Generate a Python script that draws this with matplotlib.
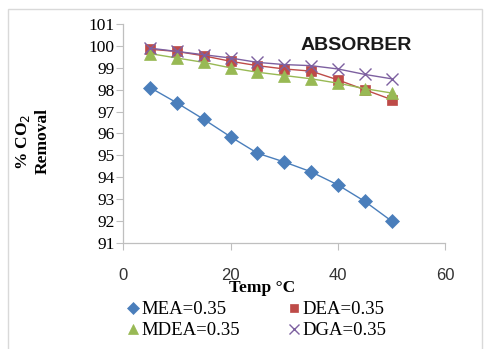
import matplotlib.pyplot as plt

# CO2 removal vs temperature in the absorber, amine loading 0.35
temp = [5, 10, 15, 20, 25, 30, 35, 40, 45, 50]
mea = [98.1, 97.4, 96.65, 95.85, 95.1, 94.7, 94.25, 93.65, 92.9, 92.0]
dea = [99.85, 99.75, 99.55, 99.3, 99.1, 98.95, 98.85, 98.45, 98.0, 97.55]
mdea = [99.65, 99.45, 99.25, 99.0, 98.8, 98.65, 98.5, 98.3, 98.05, 97.85]
dga = [99.9, 99.75, 99.6, 99.45, 99.25, 99.15, 99.1, 98.95, 98.7, 98.5]

series = [
    ("MEA=0.35", mea, "#4A7EBB", "D", 7),
    ("DEA=0.35", dea, "#BE4B48", "s", 7.5),
    ("MDEA=0.35", mdea, "#98B954", "^", 8),
    ("DGA=0.35", dga, "#7D60A0", "x", 8.5),
]

serif = "Liberation Serif"
sans = "Liberation Sans"

fig = plt.figure(figsize=(4.85, 3.49), dpi=100)
ax = fig.add_axes([0.254, 0.304, 0.664, 0.627])

handles = {}
for name, vals, color, mk, ms in series:
    h, = ax.plot(temp, vals, color=color, lw=1, marker=mk, markersize=ms,
                 markeredgewidth=1 if mk == "x" else 0.5, markeredgecolor=color,
                 label=name)
    handles[name] = h

ax.set_xlim(0, 60)
ax.set_ylim(91, 101)
ax.set_xticks([0, 20, 40, 60])
ax.set_yticks(range(91, 102))

for side in ["top", "right"]:
    ax.spines[side].set_visible(False)
for side in ["left", "bottom"]:
    ax.spines[side].set_color("#BFBFBF")
    ax.spines[side].set_linewidth(0.9)

ax.tick_params(axis="y", direction="out", length=5, width=0.8, color="#BFBFBF",
               pad=1, labelsize=12.5)
ax.tick_params(axis="x", direction="out", length=5, width=0.8, color="#BFBFBF",
               pad=13, labelsize=12)
for lbl in ax.get_yticklabels():
    lbl.set_fontfamily(serif)
for lbl in ax.get_xticklabels():
    lbl.set_fontfamily(sans)
    lbl.set_color("#333333")

ax.text(0.55, 0.94, "ABSORBER", transform=ax.transAxes, fontsize=14,
        fontweight="bold", family=sans, ha="left", va="top", color="#1a1a1a")

fig.text(0.54, 0.176, "Temp °C", ha="center", va="center",
         fontsize=12.5, fontweight="bold", family=serif)
fig.text(0.048, 0.595, "% CO$_2$", rotation=90, ha="center", va="center",
         fontsize=12.5, fontweight="bold", family=serif)
fig.text(0.088, 0.595, "Removal", rotation=90, ha="center", va="center",
         fontsize=12.5, fontweight="bold", family=serif)

# legend fills column-wise: order so rows read MEA, DEA / MDEA, DGA
order = ["MEA=0.35", "MDEA=0.35", "DEA=0.35", "DGA=0.35"]
leg = fig.legend(handles=[handles[n] for n in order], loc="lower center",
                 bbox_to_anchor=(0.53, -0.02), ncol=2, frameon=False,
                 prop={"family": serif, "size": 13.5}, markerscale=0.85,
                 handlelength=0.6, handletextpad=0.15, columnspacing=2.6,
                 labelspacing=0.2)
for h in leg.legend_handles:
    h.set_linestyle("none")

# light frame around the chart area
frame = plt.Rectangle((0.017, -0.05), 0.977, 1.024, transform=fig.transFigure,
                      fill=False, edgecolor="#D9D9D9", lw=1)
fig.patches.append(frame)

fig.savefig("out.png", dpi=100)
